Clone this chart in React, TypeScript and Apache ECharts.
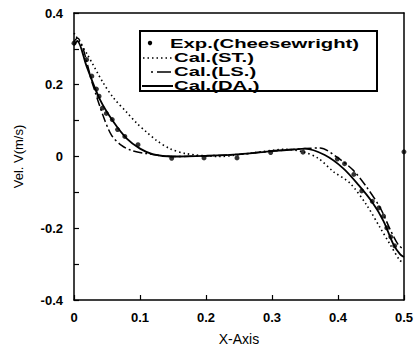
import React, { useEffect, useRef } from "react";
import * as echarts from "echarts";

// Experimental data (Cheesewright)
const expX = [0, 0.019, 0.027, 0.034, 0.038, 0.043, 0.049, 0.058, 0.066, 0.077, 0.097, 0.148, 0.197, 0.247, 0.298, 0.347, 0.399, 0.41, 0.424, 0.436, 0.452, 0.462, 0.469, 0.474, 0.48, 0.486, 0.5];
const expY = [0.316, 0.27, 0.224, 0.188, 0.168, 0.135, 0.12, 0.103, 0.075, 0.056, 0.033, -0.005, -0.004, -0.004, 0.011, 0.012, -0.007, -0.02, -0.05, -0.096, -0.125, -0.143, -0.166, -0.199, -0.224, -0.249, 0.013];

// Cal. (ST.) dotted
const stX = [0, 0.02, 0.044, 0.06, 0.08, 0.095, 0.11, 0.125, 0.145, 0.17, 0.22, 0.27, 0.32, 0.347, 0.37, 0.393, 0.418, 0.443, 0.464, 0.479, 0.494, 0.5];
const stY = [0.344, 0.285, 0.206, 0.163, 0.123, 0.093, 0.068, 0.045, 0.022, 0.008, 0.0, 0.01, 0.02, 0.013, -0.005, -0.042, -0.074, -0.134, -0.199, -0.245, -0.29, -0.295];

// Cal. (LS.) dash-dot
const lsX = [0, 0.005, 0.029, 0.044, 0.057, 0.072, 0.087, 0.11, 0.15, 0.2, 0.25, 0.3, 0.35, 0.373, 0.4, 0.423, 0.443, 0.464, 0.479, 0.491, 0.5];
const lsY = [0.32, 0.33, 0.197, 0.114, 0.059, 0.031, 0.017, 0.008, 0.0, 0.002, 0.006, 0.015, 0.022, 0.024, -0.004, -0.038, -0.084, -0.143, -0.203, -0.245, -0.26];

// Cal. (DA.) solid
const daX = [0, 0.005, 0.019, 0.039, 0.06, 0.08, 0.1, 0.12, 0.15, 0.2, 0.25, 0.3, 0.335, 0.35, 0.38, 0.408, 0.431, 0.451, 0.469, 0.484, 0.494, 0.5];
const daY = [0.31, 0.322, 0.252, 0.16, 0.096, 0.05, 0.022, 0.006, 0.0, 0.002, 0.006, 0.015, 0.02, 0.022, 0.004, -0.033, -0.079, -0.125, -0.18, -0.245, -0.272, -0.28];

const legendLabels = ["Exp.(Cheesewright)", "Cal.(ST.)", "Cal.(LS.)", "Cal.(DA.)"];
const xTitle = "X-Axis";
const yTitle = "Vel. V(m/s)";

const zip = (xs: number[], ys: number[]) => xs.map((x, i) => [x, ys[i]]);

const INK = "#000";
const FONT = "'Liberation Sans', Arial, sans-serif";

export default function App() {
  const ref = useRef<HTMLDivElement>(null);
  useEffect(() => {
    if (!ref.current) return;
    const chart = echarts.init(ref.current, undefined, { renderer: "svg" });
    const textScale = 1.56;
    const legendText = (label: string, x: number, y: number) => ({
      type: "text",
      x,
      y,
      scaleX: textScale,
      style: { text: label, x: 0, y: 0, fill: INK, font: `bold 13px ${FONT}`, verticalAlign: "middle", align: "left" },
      z: 101,
    });
    const frameAxis = { show: true, onZero: false, lineStyle: { color: INK, width: 1.5 } };
    chart.setOption({
      animation: false,
      backgroundColor: "#fff",
      grid: { left: 74, right: 11, top: 13, bottom: 48 },
      xAxis: [
        {
          type: "value",
          min: 0,
          max: 0.5,
          interval: 0.1,
          name: xTitle,
          nameLocation: "middle",
          nameGap: 32,
          nameTextStyle: { color: INK, fontSize: 14, fontFamily: FONT },
          axisLine: frameAxis,
          axisTick: { show: true, inside: true, length: 5, lineStyle: { color: INK, width: 1.2 } },
          axisLabel: { color: INK, fontSize: 13, fontWeight: "bold", fontFamily: FONT, margin: 11 },
          splitLine: { show: false },
        },
        {
          type: "value",
          position: "top",
          min: 0,
          max: 0.5,
          axisLine: frameAxis,
          axisTick: { show: false },
          axisLabel: { show: false },
          splitLine: { show: false },
        },
      ],
      yAxis: [
        {
          type: "value",
          min: -0.4,
          max: 0.4,
          interval: 0.2,
          name: yTitle,
          nameLocation: "middle",
          nameGap: 49,
          nameTextStyle: { color: INK, fontSize: 13, fontFamily: FONT },
          axisLine: frameAxis,
          axisTick: { show: true, inside: true, length: 5, lineStyle: { color: INK, width: 1.2 } },
          minorTick: { show: true, splitNumber: 2, length: 5, lineStyle: { color: INK, width: 1.2 } },
          axisLabel: { color: INK, fontSize: 13, fontWeight: "bold", fontFamily: FONT, margin: 11 },
          splitLine: { show: false },
        },
        {
          type: "value",
          position: "right",
          min: -0.4,
          max: 0.4,
          axisLine: frameAxis,
          axisTick: { show: false },
          axisLabel: { show: false },
          splitLine: { show: false },
        },
      ],
      series: [
        {
          name: legendLabels[1],
          type: "line",
          data: zip(stX, stY),
          showSymbol: false,
          smooth: 0.3,
          lineStyle: { color: INK, width: 1.6, type: [1.5, 3] },
        },
        {
          name: legendLabels[2],
          type: "line",
          data: zip(lsX, lsY),
          showSymbol: false,
          smooth: 0.3,
          lineStyle: { color: INK, width: 1.5, type: [9, 3, 2, 3] },
        },
        {
          name: legendLabels[3],
          type: "line",
          data: zip(daX, daY),
          showSymbol: false,
          smooth: 0.3,
          lineStyle: { color: INK, width: 1.8 },
        },
        {
          name: legendLabels[0],
          type: "scatter",
          data: zip(expX, expY),
          symbol: "circle",
          symbolSize: 5,
          itemStyle: { color: INK },
        },
      ],
      graphic: [
        { type: "rect", shape: { x: 140, y: 31, width: 237, height: 60 }, style: { fill: "none", stroke: INK, lineWidth: 2 }, z: 100 },
        { type: "circle", shape: { cx: 150, cy: 43, r: 2.2 }, style: { fill: INK }, z: 101 },
        legendText(legendLabels[0], 170, 44),
        { type: "line", shape: { x1: 143, y1: 58, x2: 173, y2: 58 }, style: { stroke: INK, lineWidth: 1.4, lineDash: [1.5, 3] }, z: 101 },
        legendText(legendLabels[1], 174, 58),
        { type: "line", shape: { x1: 151, y1: 72, x2: 173, y2: 72 }, style: { stroke: INK, lineWidth: 1.5, lineDash: [2, 4, 12, 0] }, z: 101 },
        legendText(legendLabels[2], 174, 72),
        { type: "line", shape: { x1: 142, y1: 86, x2: 173, y2: 86 }, style: { stroke: INK, lineWidth: 2 }, z: 101 },
        legendText(legendLabels[3], 174, 86),
      ],
    });
    return () => chart.dispose();
  }, []);
  return <div ref={ref} style={{ width: 416, height: 351, position: "absolute", left: 0, top: 0 }} />;
}
